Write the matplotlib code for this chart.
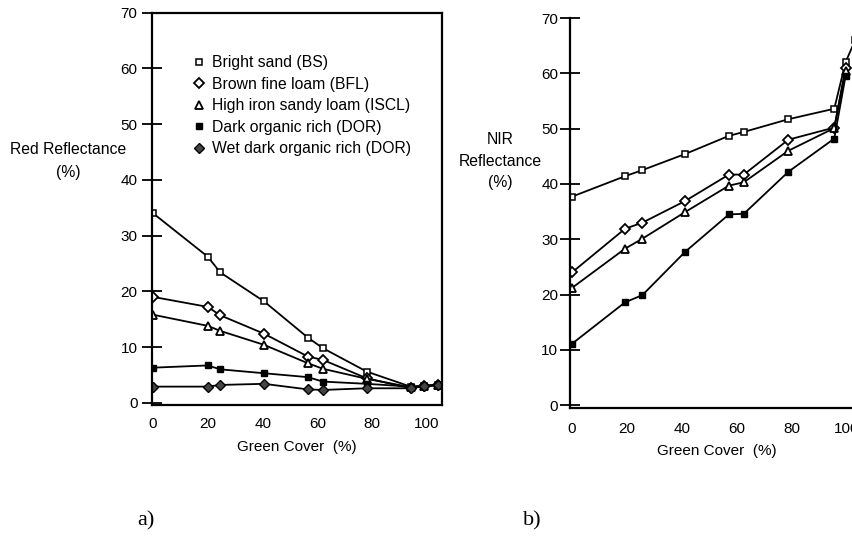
import matplotlib
matplotlib.use("Agg")
import matplotlib.pyplot as plt
from matplotlib.lines import Line2D

plt.rcParams['font.family'] = ['Liberation Sans', 'DejaVu Sans']

# ---------------- data ----------------
series_names = ["Bright sand (BS)", "Brown fine loam (BFL)", "High iron sandy loam (ISCL)",
                "Dark organic rich (DOR)", "Wet dark organic rich (DOR)"]

# a) Red reflectance vs green cover
red_cover = [0, 20, 24.5, 40.5, 56.5, 62, 78, 94, 99, 104]
red_bs = [34.0, 26.2, 23.4, 18.2, 11.7, 9.8, 5.6, 2.9, 3.0, 3.2]
red_bfl = [19.0, 17.2, 15.7, 12.4, 8.3, 7.7, 4.4, 2.6, 3.0, 3.2]
red_iscl = [15.8, 13.8, 12.9, 10.4, 7.1, 6.1, 4.3, 2.8, 3.0, 3.2]
red_dor = [6.3, 6.7, 6.0, 5.3, 4.6, 3.8, 3.4, 2.9, 3.0, 3.2]
red_wdor = [2.9, 2.9, 3.2, 3.4, 2.4, 2.3, 2.6, 2.6, 3.0, 3.2]

# b) NIR reflectance vs green cover
nir_cover = [0, 19.3, 25.6, 41.1, 57.1, 62.5, 78.7, 95.4, 99.5]
nir_bs_cover = [0, 19.3, 25.6, 41.1, 57.1, 62.5, 78.7, 95.4, 99.5, 103]
nir_bs = [37.7, 41.4, 42.5, 45.4, 48.7, 49.4, 51.7, 53.6, 62.0, 66.0]
nir_bfl = [24.0, 31.9, 33.0, 36.9, 41.7, 41.7, 48.0, 50.2, 61.0]
nir_iscl = [21.2, 28.3, 30.1, 34.9, 39.7, 40.3, 46.0, 50.1, 60.5]
nir_dor = [11.1, 18.6, 19.9, 27.7, 34.5, 34.6, 42.2, 48.2, 59.5]

x_ticks = [0, 20, 40, 60, 80, 100]
y_ticks = [0, 10, 20, 30, 40, 50, 60, 70]

# ---------------- style ----------------
styles = [
    dict(marker='s', mfc='white', mec='black', ms=5, mew=1.1),
    dict(marker='D', mfc='white', mec='black', ms=5, mew=1.3),
    dict(marker='^', mfc='white', mec='black', ms=6, mew=1.3),
    dict(marker='s', mfc='black', mec='black', ms=4.5, mew=1.0),
    dict(marker='D', mfc='#444444', mec='black', ms=5, mew=1.0),
]
LW = 1.3
FS = 11

W, H = 852, 538
fig = plt.figure(figsize=(W / 100, H / 100), dpi=100)

def frac(x0, y0, x1, y1):
    return [x0 / W, 1 - y1 / H, (x1 - x0) / W, (y1 - y0) / H]

def ftext(x, y, s, **kw):
    fig.text(x / W, 1 - y / H, s, ha='center', va='center', **kw)

# ---------------- panel a ----------------
ax1 = fig.add_axes(frac(152, 12.7, 442, 405))
red_data = [red_bs, red_bfl, red_iscl, red_dor, red_wdor]
for vals, st in zip(red_data, styles):
    ax1.plot(red_cover, vals, color='black', lw=LW, **st)
ax1.set_xlim(-0.4, 105.5)
ax1.set_ylim(-0.4, 70)
ax1.set_xticks(x_ticks)
ax1.set_yticks(y_ticks)
ax1.tick_params(axis='y', direction='inout', length=15, width=1.3, pad=3, labelsize=FS)
ax1.tick_params(axis='x', length=0, pad=9, labelsize=FS)
for sp in ax1.spines.values():
    sp.set_linewidth(1.6)
ax1.set_xlabel("Green Cover  (%)", fontsize=FS)
ax1.xaxis.set_label_coords(0.5, -(440 - 405) / 392.3)

handles = [Line2D([], [], ls='none', **st) for st in styles]
ax1.legend(handles, series_names, loc='upper left', bbox_to_anchor=(0.141, 0.891),
           frameon=False, fontsize=11.3, handlelength=0.8, handletextpad=0.4,
           labelspacing=0.41, borderpad=0, borderaxespad=0)

ftext(68, 150, "Red Reflectance", fontsize=11.3)
ftext(68, 173, "(%)", fontsize=11.3)

# ---------------- panel b ----------------
ax2_w = 2.75 * 110.7
ax2 = fig.add_axes(frac(570, 18, 570 + ax2_w, 408))
nir_data = [(nir_bs_cover, nir_bs), (nir_cover, nir_bfl), (nir_cover, nir_iscl), (nir_cover, nir_dor)]
for (xs, vals), st in zip(nir_data, styles[:4]):
    ax2.plot(xs, vals, color='black', lw=LW, **st)
ax2.set_xlim(-0.7, 110)
ax2.set_ylim(-0.5, 70)
ax2.set_xticks(x_ticks)
ax2.set_yticks(y_ticks)
ax2.tick_params(axis='y', direction='inout', length=15, width=1.3, pad=1, labelsize=FS)
ax2.tick_params(axis='x', length=0, pad=10, labelsize=FS)
ax2.spines['top'].set_visible(False)
ax2.spines['right'].set_visible(False)
ax2.spines['left'].set_linewidth(1.6)
ax2.spines['bottom'].set_linewidth(1.6)
ax2.set_xlabel("Green Cover  (%)", fontsize=FS)
ax2.xaxis.set_label_coords((717 - 570) / ax2_w, -(444 - 408) / 390)

ftext(500, 139, "NIR", fontsize=11.3)
ftext(500, 161, "Reflectance", fontsize=11.3)
ftext(500, 183, "(%)", fontsize=11.3)

# panel letters
ftext(146, 521, "a)", fontsize=16, family=['Liberation Serif', 'DejaVu Serif'])
ftext(532, 521, "b)", fontsize=16, family=['Liberation Serif', 'DejaVu Serif'])

fig.savefig("out.png", dpi=100)
